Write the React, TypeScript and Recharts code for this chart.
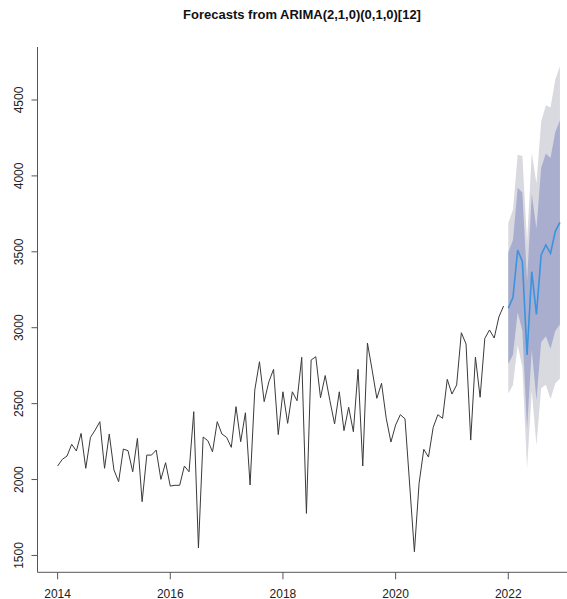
import React from "react";
import { ComposedChart, Line, Area, XAxis, YAxis } from "recharts";

// Monthly history, Jan 2014 .. Dec 2021
const histStartYear = 2014;
const histValues = [
  2089, 2133, 2155, 2232, 2188, 2304, 2074, 2278, 2326, 2381, 2074, 2300,
  2063, 1986, 2201, 2190, 2051, 2271, 1854, 2161, 2161, 2194, 2001, 2111,
  1957, 1962, 1962, 2089, 2051, 2447, 1549, 2280, 2256, 2183, 2381, 2300,
  2278, 2212, 2480, 2249, 2440, 1964, 2590, 2776, 2513, 2644, 2726, 2296,
  2578, 2370, 2578, 2519, 2805, 1777, 2787, 2809, 2539, 2685, 2520, 2366,
  2578, 2322, 2476, 2315, 2726, 2089, 2899, 2721, 2535, 2634, 2403, 2247,
  2359, 2427, 2400, 1964, 1524, 1975, 2199, 2148, 2343, 2427, 2403, 2660,
  2563, 2623, 2967, 2893, 2260, 2807, 2542, 2930, 2985, 2932, 3071, 3143,
];

// Forecast, Jan 2022 .. Dec 2022
const fcStartYear = 2022;
const fcMean = [3128, 3200, 3512, 3435, 2820, 3369, 3088, 3479, 3545, 3490, 3633, 3694];
const fcLo80 = [2761, 2822, 3102, 2980, 2333, 2856, 2524, 2905, 2943, 2862, 2979, 3021];
const fcHi80 = [3495, 3578, 3922, 3890, 3307, 3882, 3652, 4053, 4147, 4118, 4287, 4367];
const fcLo95 = [2567, 2622, 2885, 2739, 2075, 2585, 2226, 2601, 2624, 2530, 2633, 2665];
const fcHi95 = [3689, 3778, 4139, 4131, 3565, 4153, 3950, 4357, 4466, 4450, 4633, 4723];

const xTicks = [2014, 2016, 2018, 2020, 2022];
const yTicks = [1500, 2000, 2500, 3000, 3500, 4000, 4500];

const titleText = "Forecasts from ARIMA(2,1,0)(0,1,0)[12]";

const data = [
  ...histValues.map((v, i) => ({ t: histStartYear + i / 12, hist: v })),
  ...fcMean.map((v, i) => ({
    t: fcStartYear + i / 12,
    mean: v,
    r80: [fcLo80[i], fcHi80[i]],
    r95: [fcLo95[i], fcHi95[i]],
  })),
];

const FONT = '"Liberation Sans", Arial, Helvetica, sans-serif';

const YTick = (props: any) => {
  const { y, payload } = props;
  return (
    <text
      x={19}
      y={y}
      transform={`rotate(-90, 19, ${y})`}
      textAnchor="middle"
      dominantBaseline="central"
      fontFamily={FONT}
      fontSize={12}
      fill="#222"
    >
      {payload.value}
    </text>
  );
};

const XTick = (props: any) => {
  const { x, payload } = props;
  return (
    <text
      x={x}
      y={593.5}
      textAnchor="middle"
      dominantBaseline="central"
      fontFamily={FONT}
      fontSize={12}
      fill="#222"
    >
      {payload.value}
    </text>
  );
};

export default function App() {
  return (
    <div
      style={{
        position: "absolute",
        left: 0,
        top: 0,
        width: 567,
        height: 599,
        overflow: "hidden",
        background: "#fff",
      }}
    >
      <div
        style={{
          position: "absolute",
          left: 0,
          top: 6,
          width: 604,
          textAlign: "center",
          fontFamily: FONT,
          fontWeight: "bold",
          fontSize: 13,
          color: "#111",
          lineHeight: "18px",
        }}
      >
        {titleText}
      </div>
      <ComposedChart
        width={600}
        height={599}
        data={data}
        margin={{ top: 47, right: 20, bottom: 0, left: 0 }}
      >
        <XAxis
          dataKey="t"
          type="number"
          domain={[2013.643, 2023.273]}
          ticks={xTicks}
          tick={<XTick />}
          tickSize={7}
          height={26.7}
          axisLine={{ stroke: "#555" }}
          tickLine={{ stroke: "#555" }}
          allowDataOverflow
        />
        <YAxis
          type="number"
          domain={[1389, 4849]}
          ticks={yTicks}
          tick={<YTick />}
          tickSize={6}
          width={37.5}
          axisLine={{ stroke: "#555" }}
          tickLine={{ stroke: "#555" }}
          allowDataOverflow
        />
        <Area
          dataKey="r95"
          type="linear"
          stroke="none"
          fill="#d9d9e0"
          fillOpacity={1}
          isAnimationActive={false}
          dot={false}
          activeDot={false}
        />
        <Area
          dataKey="r80"
          type="linear"
          stroke="none"
          fill="#a9aecf"
          fillOpacity={1}
          isAnimationActive={false}
          dot={false}
          activeDot={false}
        />
        <Line
          dataKey="hist"
          type="linear"
          stroke="#3a3a3a"
          strokeWidth={1}
          dot={false}
          activeDot={false}
          isAnimationActive={false}
        />
        <Line
          dataKey="mean"
          type="linear"
          stroke="#3b93dd"
          strokeWidth={1.6}
          dot={false}
          activeDot={false}
          isAnimationActive={false}
        />
      </ComposedChart>
    </div>
  );
}
